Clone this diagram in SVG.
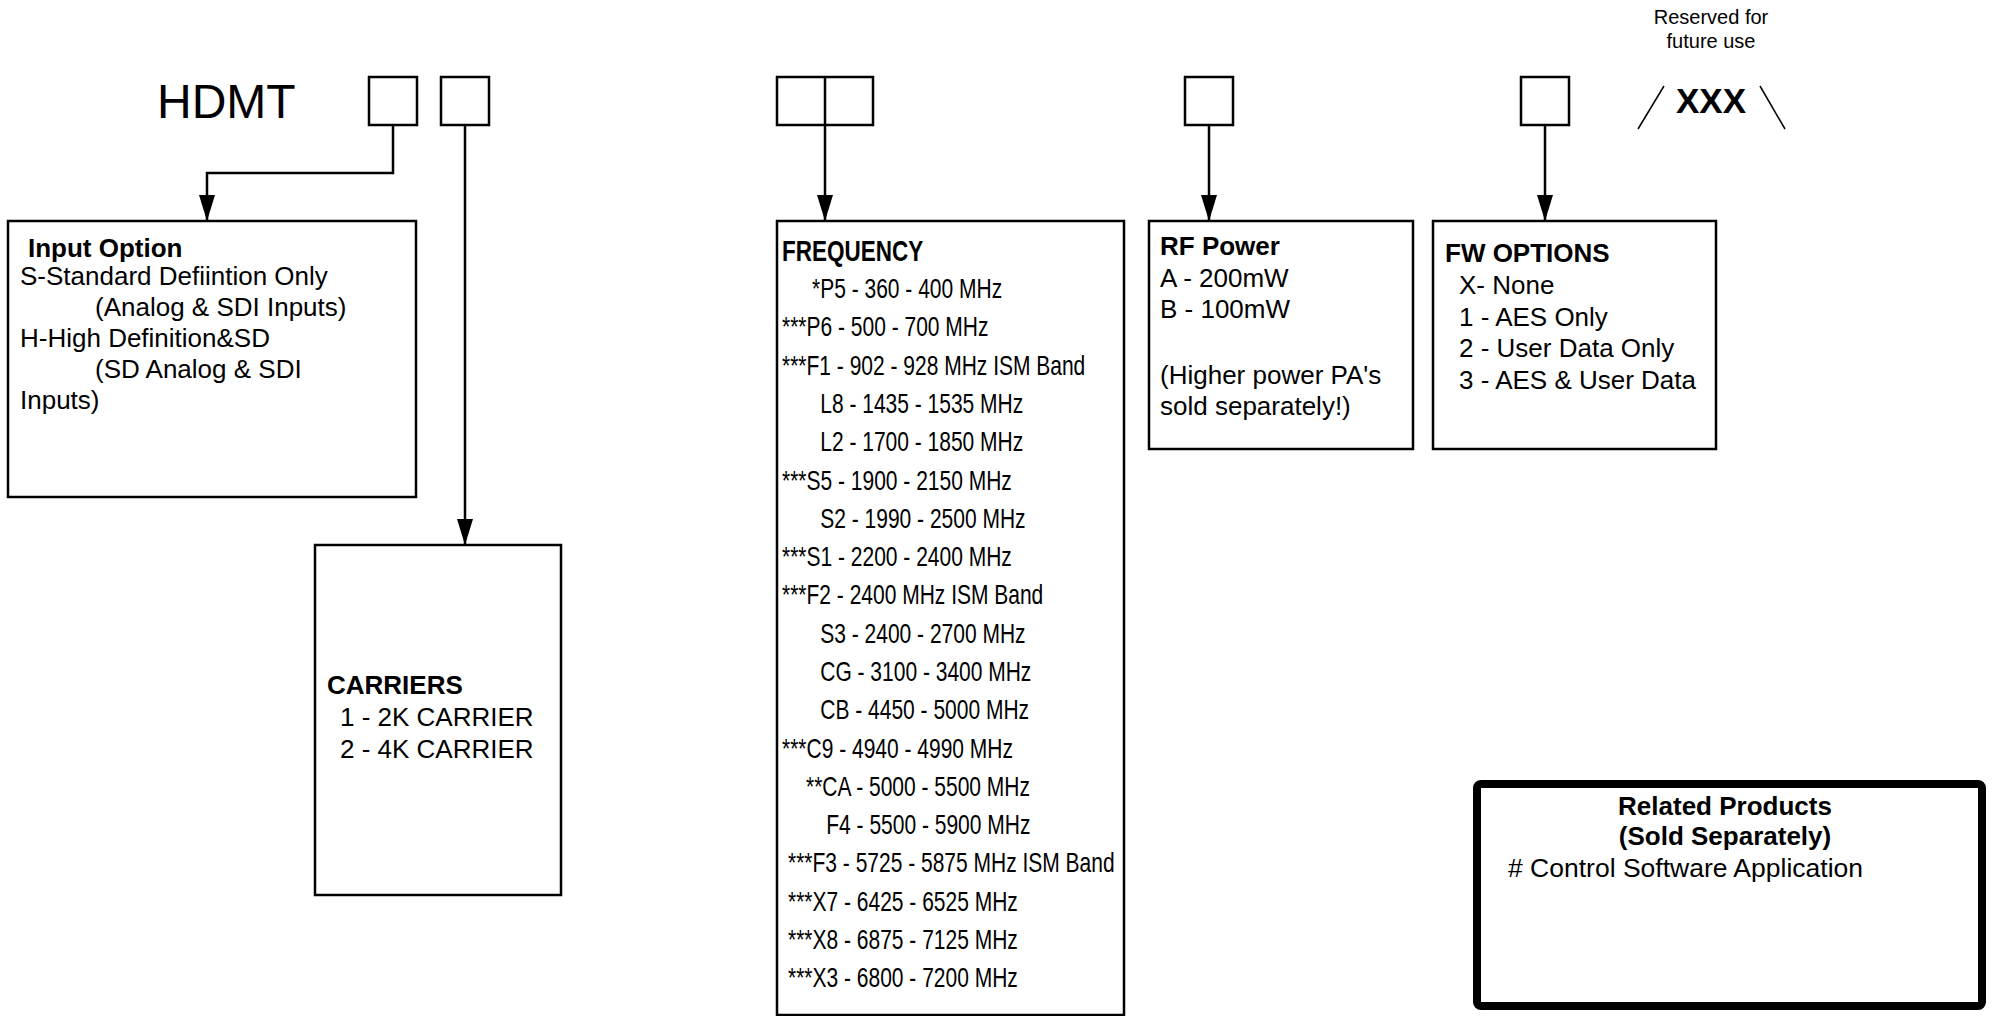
<svg xmlns="http://www.w3.org/2000/svg" width="2000" height="1016" viewBox="0 0 2000 1016">
<style>
text{font-family:"Liberation Sans",Arial,sans-serif;fill:#000}
.t{font-size:26px}
.b{font-weight:bold}
.f{font-size:28px}
.box{fill:#fff;stroke:#000;stroke-width:2.5}
.sq{fill:none;stroke:#000;stroke-width:2.5}
.con{fill:none;stroke:#000;stroke-width:2.5}
</style>
<defs>
<marker id="ah" markerUnits="userSpaceOnUse" markerWidth="26" markerHeight="18" refX="26" refY="9" orient="auto">
<path d="M0,1 L26,9 L0,17 z" fill="#000"/>
</marker>
</defs>
<rect width="2000" height="1016" fill="#fff"/>
<g id="title">
<text x="157" y="118" style="font-size:48px">HDMT</text>
</g>
<g id="slot-input"><rect class="sq" x="369" y="77" width="48" height="48"/></g>
<g id="slot-carrier"><rect class="sq" x="441" y="77" width="48" height="48"/></g>
<g id="slot-freq"><rect class="sq" x="777" y="77" width="96" height="48"/><line class="sq" x1="825" y1="77" x2="825" y2="125"/></g>
<g id="slot-rf"><rect class="sq" x="1185" y="77" width="48" height="48"/></g>
<g id="slot-fw"><rect class="sq" x="1521" y="77" width="48" height="48"/></g>
<g id="reserved">
<text x="1711" y="24" text-anchor="middle" style="font-size:20px">Reserved for</text>
<text x="1711" y="48" text-anchor="middle" style="font-size:20px">future use</text>
<text x="1711" y="113" text-anchor="middle" class="b" style="font-size:35px">XXX</text>
<line x1="1638" y1="129" x2="1664" y2="86" stroke="#000" stroke-width="1.5"/>
<line x1="1760" y1="86" x2="1785" y2="129" stroke="#000" stroke-width="1.5"/>
</g>
<g id="connectors">
<path class="con" d="M393,125 V173 H207 V221" marker-end="url(#ah)"/>
<path class="con" d="M465,125 V545" marker-end="url(#ah)"/>
<path class="con" d="M825,125 V221" marker-end="url(#ah)"/>
<path class="con" d="M1209,125 V221" marker-end="url(#ah)"/>
<path class="con" d="M1545,125 V221" marker-end="url(#ah)"/>
</g>
<g id="input-option">
<rect class="box" x="8" y="221" width="408" height="276"/>
<text class="t b" x="28" y="257">Input Option</text>
<text class="t" x="20" y="285">S-Standard Defiintion Only</text>
<text class="t" x="95" y="316">(Analog &amp; SDI Inputs)</text>
<text class="t" x="20" y="347">H-High Definition&amp;SD</text>
<text class="t" x="95" y="378">(SD Analog &amp; SDI</text>
<text class="t" x="20" y="409">Inputs)</text>
</g>
<g id="carriers">
<rect class="box" x="315" y="545" width="246" height="350"/>
<text class="t b" x="327" y="694">CARRIERS</text>
<text class="t" x="340" y="726">1 - 2K CARRIER</text>
<text class="t" x="340" y="758">2 - 4K CARRIER</text>
</g>
<g id="frequency">
<rect class="box" x="777" y="221" width="347" height="794"/>
<g transform="matrix(0.75,0,0,1,782,0)">
<text class="b" x="0" y="261" style="font-size:30px">FREQUENCY</text>
<text class="f" x="40" y="298">*P5 - 360 - 400 MHz</text>
<text class="f" x="0" y="336">***P6 - 500 - 700 MHz</text>
<text class="f" x="0" y="375">***F1 - 902 - 928 MHz ISM Band</text>
<text class="f" x="51" y="413">L8 - 1435 - 1535 MHz</text>
<text class="f" x="51" y="451">L2 - 1700 - 1850 MHz</text>
<text class="f" x="0" y="490">***S5 - 1900 - 2150 MHz</text>
<text class="f" x="51" y="528">S2 - 1990 - 2500 MHz</text>
<text class="f" x="0" y="566">***S1 - 2200 - 2400 MHz</text>
<text class="f" x="0" y="604">***F2 - 2400 MHz ISM Band</text>
<text class="f" x="51" y="643">S3 - 2400 - 2700 MHz</text>
<text class="f" x="51" y="681">CG - 3100 - 3400 MHz</text>
<text class="f" x="51" y="719">CB - 4450 - 5000 MHz</text>
<text class="f" x="0" y="758">***C9 - 4940 - 4990 MHz</text>
<text class="f" x="32" y="796">**CA - 5000 - 5500 MHz</text>
<text class="f" x="59" y="834">F4 - 5500 - 5900 MHz</text>
<text class="f" x="8" y="872">***F3 - 5725 - 5875 MHz ISM Band</text>
<text class="f" x="8" y="911">***X7 - 6425 - 6525 MHz</text>
<text class="f" x="8" y="949">***X8 - 6875 - 7125 MHz</text>
<text class="f" x="8" y="987">***X3 - 6800 - 7200 MHz</text>
</g>
</g>
<g id="rf-power">
<rect class="box" x="1149" y="221" width="264" height="228"/>
<text class="t b" x="1160" y="255">RF Power</text>
<text class="t" x="1160" y="287">A - 200mW</text>
<text class="t" x="1160" y="318">B - 100mW</text>
<text class="t" x="1160" y="384">(Higher power PA's</text>
<text class="t" x="1160" y="415">sold separately!)</text>
</g>
<g id="fw-options">
<rect class="box" x="1433" y="221" width="283" height="228"/>
<text class="t b" x="1445" y="262">FW OPTIONS</text>
<text class="t" x="1459" y="294">X- None</text>
<text class="t" x="1459" y="326">1 - AES Only</text>
<text class="t" x="1459" y="357">2 - User Data Only</text>
<text class="t" x="1459" y="389">3 - AES &amp; User Data</text>
</g>
<g id="related-products">
<rect x="1477" y="784" width="505" height="222" rx="4" fill="#fff" stroke="#000" stroke-width="8"/>
<text class="t b" x="1725" y="815" text-anchor="middle">Related Products</text>
<text class="t b" x="1725" y="845" text-anchor="middle">(Sold Separately)</text>
<text class="t" x="1508" y="877" style="font-size:26.5px"># Control Software Application</text>
</g>
</svg>
